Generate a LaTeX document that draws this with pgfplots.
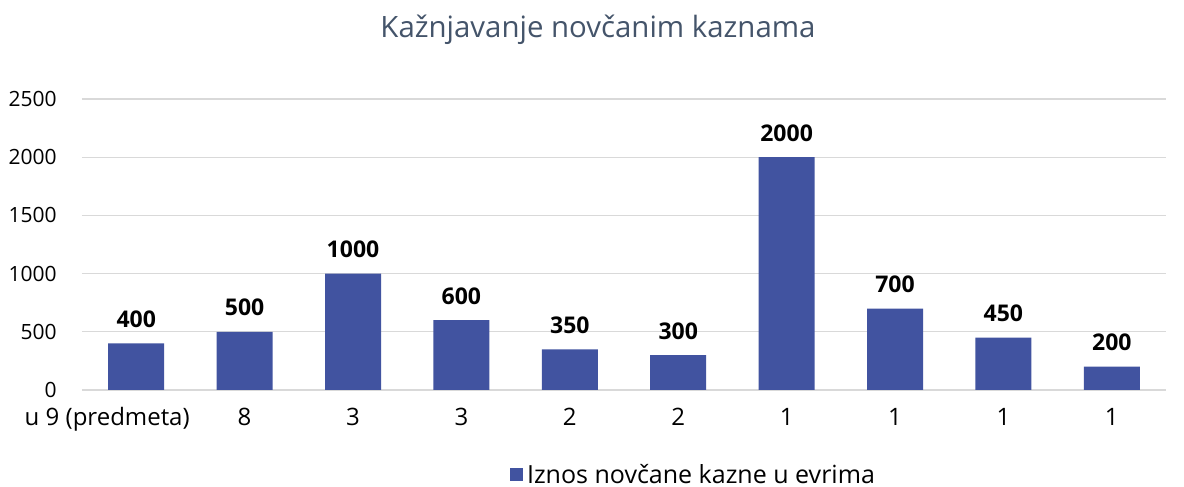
\documentclass[border=0pt]{standalone}
\usepackage{pgfplots}
\pgfplotsset{compat=1.18}
\usepackage{fontspec}
\setmainfont{Open Sans}
\definecolor{barblue}{RGB}{65,83,160}
\definecolor{titlegray}{RGB}{68,84,106}
\definecolor{gridgray}{RGB}{217,217,217}
\begin{document}
\begin{tikzpicture}
\useasboundingbox (-40pt,-48.5pt) rectangle (552pt,195pt);
\begin{axis}[at={(1pt,0)},anchor=south west,scale only axis,
  width=542pt,height=145.5pt,
  xmin=-0.5,xmax=9.5,ymin=0,ymax=2500,
  axis line style={draw=none},
  ytick={0,500,1000,1500,2000,2500},
  xtick=data,
  xticklabels={{u 9 (predmeta)\hspace*{29pt}},8,3,3,2,2,1,1,1,1},
  ymajorgrids,grid style={gridgray,line width=0.6pt},
  major tick length=0pt,
  tick label style={font=\fontsize{10.5}{12}\selectfont,text=black},
  yticklabel style={anchor=east,inner sep=0pt,xshift=-12.5pt},
  xticklabel style={anchor=base,yshift=-17.5pt,font=\fontsize{12}{14}\selectfont},
  /pgf/number format/assume math mode=true,
  /pgf/number format/1000 sep={},
  ybar,bar width=28pt,
  nodes near coords,
  every node near coord/.style={anchor=base,yshift=8pt,font=\fontsize{11.5}{13}\selectfont\bfseries,text=black},
  legend style={draw=none,at={(0.565,-0.292)},anchor=center,font=\fontsize{12.5}{14}\selectfont,inner sep=0pt},
  legend image code/.code={\fill[#1] (0pt,-3pt) rectangle (6.5pt,3.5pt);},
]
\addplot[fill=barblue,draw=none] coordinates {(0,400) (1,500) (2,1000) (3,600) (4,350) (5,300) (6,2000) (7,700) (8,450) (9,200)};
\addlegendentry{Iznos novčane kazne u evrima}
\end{axis}
\node[text=titlegray,font=\fontsize{14.7}{17}\selectfont] at (259pt,180pt) {Kažnjavanje novčanim kaznama};
\end{tikzpicture}
\end{document}
